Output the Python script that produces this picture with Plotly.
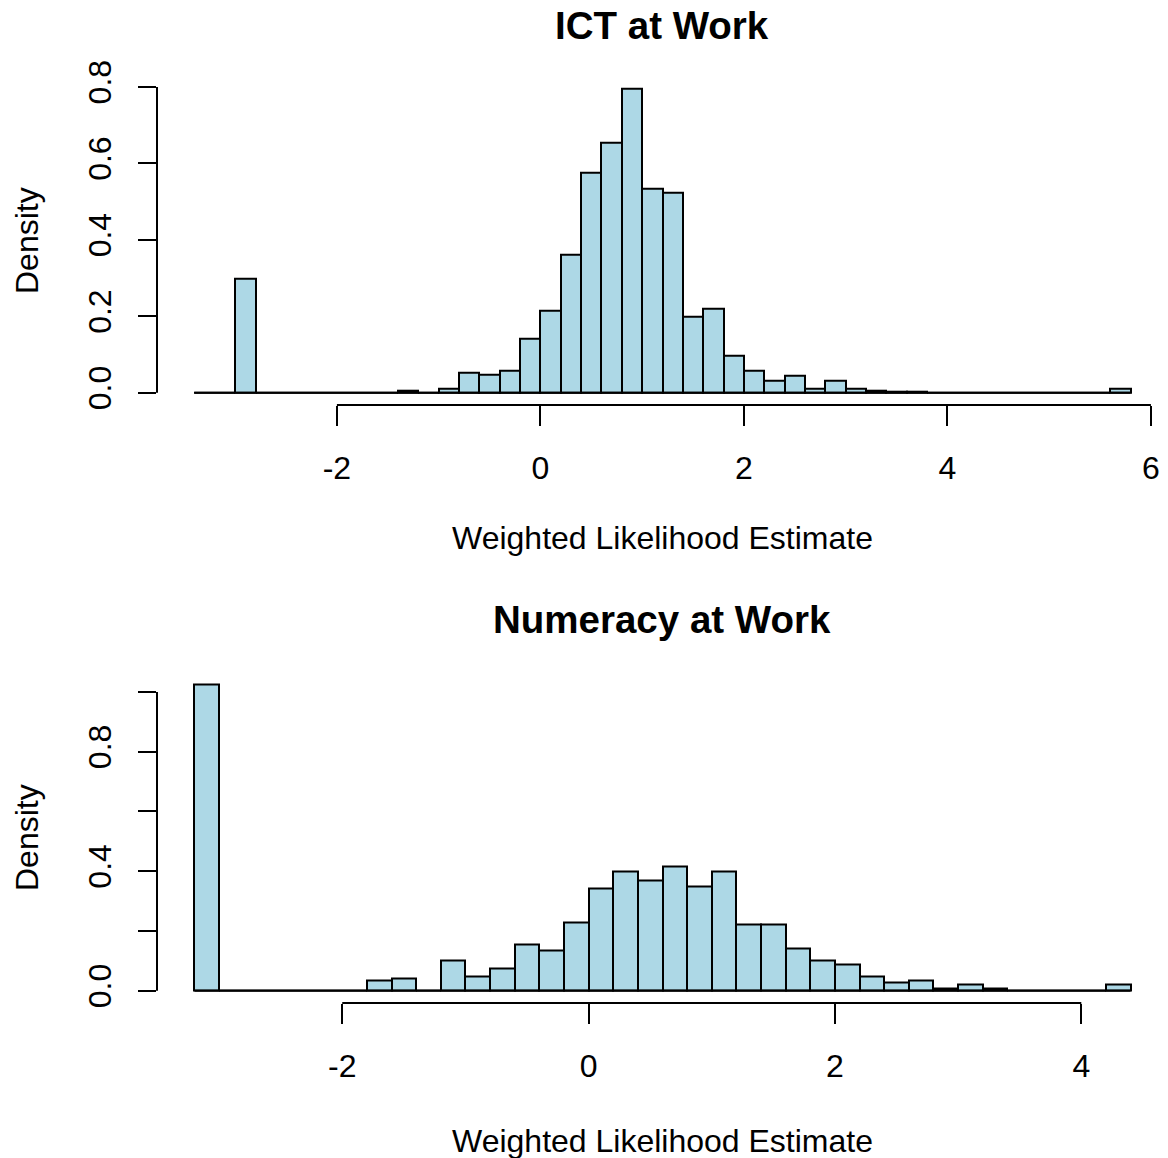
import plotly.graph_objects as go

W, H = 1168, 1158
OFF = 8  # the page body adds an 8px margin around the figure

# histogram bins (left edges, width 0.2) and densities
bin_width = 0.2

ict_left = [-3.4, -3.2, -3.0, -2.8, -2.6, -2.4, -2.2, -2.0, -1.8, -1.6,
            -1.4, -1.2, -1.0, -0.8, -0.6, -0.4, -0.2, 0.0, 0.2, 0.4,
            0.6, 0.8, 1.0, 1.2, 1.4, 1.6, 1.8, 2.0, 2.2, 2.4,
            2.6, 2.8, 3.0, 3.2, 3.4, 3.6, 3.8, 4.0, 4.2, 4.4,
            4.6, 4.8, 5.0, 5.2, 5.4, 5.6]
ict_density = [0, 0, 0.298, 0, 0, 0, 0, 0, 0, 0,
               0.005, 0, 0.012, 0.053, 0.047, 0.059, 0.142, 0.215, 0.362, 0.575,
               0.655, 0.795, 0.534, 0.524, 0.200, 0.220, 0.097, 0.058, 0.032, 0.044,
               0.012, 0.032, 0.012, 0.005, 0.004, 0.004, 0, 0, 0, 0,
               0, 0, 0, 0, 0, 0.012]

num_left = [-3.2, -3.0, -2.8, -2.6, -2.4, -2.2, -2.0, -1.8, -1.6, -1.4,
            -1.2, -1.0, -0.8, -0.6, -0.4, -0.2, 0.0, 0.2, 0.4, 0.6,
            0.8, 1.0, 1.2, 1.4, 1.6, 1.8, 2.0, 2.2, 2.4, 2.6,
            2.8, 3.0, 3.2, 3.4, 3.6, 3.8, 4.0, 4.2]
num_density = [1.024, 0, 0, 0, 0, 0, 0, 0.034, 0.041, 0,
               0.101, 0.049, 0.075, 0.155, 0.134, 0.230, 0.343, 0.398, 0.370, 0.417,
               0.349, 0.398, 0.222, 0.222, 0.143, 0.101, 0.087, 0.049, 0.027, 0.035,
               0.008, 0.021, 0.008, 0, 0, 0, 0, 0.021]

ict_xticks = [-2, 0, 2, 4, 6]
ict_yticks = [0.0, 0.2, 0.4, 0.6, 0.8]
ict_ylabels = ["0.0", "0.2", "0.4", "0.6", "0.8"]

num_xticks = [-2, 0, 2, 4]
num_yticks = [0.0, 0.2, 0.4, 0.6, 0.8, 1.0]
num_ylabels = ["0.0", "", "0.4", "", "0.8", ""]

titles = ["ICT at Work", "Numeracy at Work"]
xlab = "Weighted Likelihood Estimate"
ylab = "Density"

FONT = "Liberation Sans, Arial, sans-serif"
BASE = 32
FILL = "#ADD8E6"

FW, FH = W - OFF, H - OFF


def px_x(p):
    # screen column -> paper x
    return (p - OFF) / FW


def px_y(p):
    # screen row -> paper y
    return 1 - (p - OFF) / FH


def padded(lo, hi):
    # R style 4% axis padding
    d = (hi - lo) * 0.04
    return [lo - d, hi + d]


fig = go.Figure()

panels = [
    dict(left=ict_left, dens=ict_density, xt=ict_xticks, yt=ict_yticks, yl=ict_ylabels,
         ydom=[px_y(405), px_y(76.7)], title_y=25, xlab_y=538, ylab_y=241, ax=""),
    dict(left=num_left, dens=num_density, xt=num_xticks, yt=num_yticks, yl=num_ylabels,
         ydom=[px_y(1003), px_y(672.5)], title_y=619, xlab_y=1141, ylab_y=838, ax="2"),
]

xdom = [px_x(157), 1.0]

for i, p in enumerate(panels):
    ax = p["ax"]
    centers = [l + bin_width / 2 for l in p["left"]]
    x_lo = p["left"][0]
    x_hi = p["left"][-1] + bin_width

    # zero-height bins still show as a baseline in the original
    fig.add_trace(go.Scatter(
        x=[x_lo, x_hi], y=[0, 0], mode="lines",
        line=dict(color="black", width=2),
        xaxis="x" + ax, yaxis="y" + ax, hoverinfo="skip", showlegend=False,
    ))
    fig.add_trace(go.Bar(
        x=centers, y=p["dens"], width=bin_width,
        marker=dict(color=FILL, line=dict(color="black", width=2)),
        xaxis="x" + ax, yaxis="y" + ax, showlegend=False,
    ))

    fig.layout["xaxis" + ax] = dict(
        domain=xdom, anchor="y" + ax, range=padded(x_lo, x_hi),
        tickvals=p["xt"], ticktext=[str(t) for t in p["xt"]],
        ticks="outside", ticklen=20, tickwidth=2, tickcolor="black",
        showline=False, showgrid=False, zeroline=False, automargin=False,
        tickfont=dict(size=BASE, color="black", family=FONT),
        ticklabelstandoff=15,
    )
    fig.layout["yaxis" + ax] = dict(
        domain=p["ydom"], anchor="x" + ax, range=padded(0, max(p["dens"])),
        tickvals=p["yt"], ticktext=p["yl"], tickangle=-90,
        ticks="outside", ticklen=18, tickwidth=2, tickcolor="black",
        showline=False, showgrid=False, zeroline=False, automargin=False,
        tickfont=dict(size=BASE, color="black", family=FONT),
        ticklabelstandoff=14,
    )

    # R draws axis lines only between the first and last tick
    fig.add_shape(type="line", xref="x" + ax, yref="y" + ax + " domain",
                  x0=p["xt"][0], x1=p["xt"][-1], y0=0, y1=0,
                  line=dict(color="black", width=2))
    fig.add_shape(type="line", xref="x" + ax + " domain", yref="y" + ax,
                  x0=0, x1=0, y0=p["yt"][0], y1=p["yt"][-1],
                  line=dict(color="black", width=2))

    xmid = (xdom[0] + xdom[1]) / 2
    fig.add_annotation(text="<b>" + titles[i] + "</b>", xref="paper", yref="paper",
                       x=xmid, y=px_y(p["title_y"]), xanchor="center", yanchor="middle",
                       showarrow=False, font=dict(size=38.5, color="black", family=FONT))
    fig.add_annotation(text=xlab, xref="paper", yref="paper",
                       x=xmid, y=px_y(p["xlab_y"]), xanchor="center", yanchor="middle",
                       showarrow=False, font=dict(size=BASE, color="black", family=FONT))
    fig.add_annotation(text=ylab, xref="paper", yref="paper", textangle=-90,
                       x=px_x(27), y=px_y(p["ylab_y"]), xanchor="center", yanchor="middle",
                       showarrow=False, font=dict(size=BASE, color="black", family=FONT))

fig.update_layout(
    template="none",
    width=FW, height=FH,
    margin=dict(l=0, r=0, t=0, b=0, autoexpand=False),
    plot_bgcolor="white", paper_bgcolor="white",
    bargap=0, showlegend=False,
    font=dict(family=FONT, color="black"),
)

fig.write_html("out.html")
